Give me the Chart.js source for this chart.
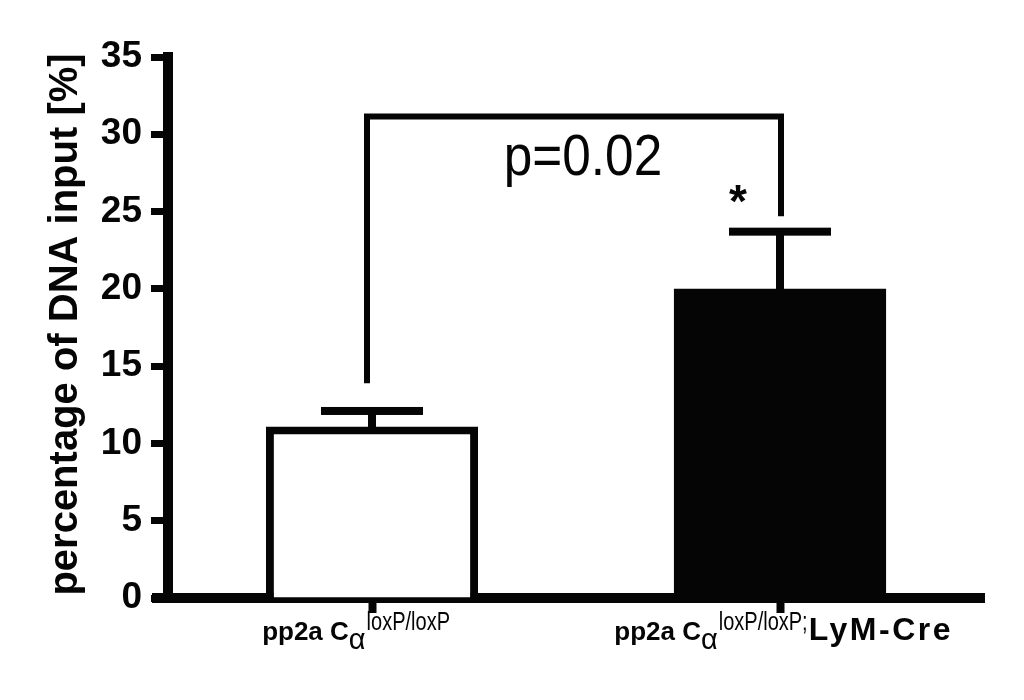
<!DOCTYPE html>
<html><head><meta charset="utf-8">
<script src="https://cdn.jsdelivr.net/npm/chart.js@4"></script>
<style>html,body{margin:0;padding:0;background:#fff;} #wrap{width:1024px;height:700px;}</style>
</head><body><div id="wrap"><canvas id="c" width="1024" height="700"></canvas></div>
<script>
const categories = ['pp2a Cα loxP/loxP', 'pp2a Cα loxP/loxP;LyM-Cre'];
const labelMain = ['pp2a C', 'pp2a C'];
const labelGreek = ['α', 'α'];
const labelSup = ['loxP/loxP', 'loxP/loxP;'];
const labelSuffix = ['', 'LyM-Cre'];
const values = [11.1, 20.0];
const errors = [1.0, 3.7];
const barColors = ['#ffffff', '#050505'];
const yTicks = [0, 5, 10, 15, 20, 25, 30, 35];
const yTitle = 'percentage of DNA input [%]';
const bracketLevel = 31.15;
const bracketEnds = [13.9, 24.7];
const pLabel = 'p=0.02';
const starLabel = '*';

const INK = '#050505';
const FONT = '"Liberation Sans", Arial, Helvetica, sans-serif';

const annot = {
  id: 'annot',
  afterDatasetsDraw(chart) {
    const ctx = chart.ctx, x = chart.scales.x, y = chart.scales.y;
    ctx.save();
    ctx.fillStyle = INK; ctx.strokeStyle = INK;
    values.forEach((v, i) => {
      const cx = x.getPixelForValue(i);
      const yTop = y.getPixelForValue(v);
      const yErr = y.getPixelForValue(v + errors[i]);
      ctx.fillRect(cx - 4, yErr, 8, yTop - yErr + 2);
      ctx.fillRect(cx - 51, yErr - 4, 102, 8);
    });
    const xl = x.getPixelForValue(0), xr = x.getPixelForValue(1);
    const yb = y.getPixelForValue(bracketLevel);
    ctx.lineWidth = 6; ctx.lineJoin = 'miter'; ctx.lineCap = 'butt';
    ctx.beginPath();
    ctx.moveTo(xl - 5, y.getPixelForValue(bracketEnds[0]));
    ctx.lineTo(xl - 5, yb);
    ctx.lineTo(xr + 1, yb);
    ctx.lineTo(xr + 1, y.getPixelForValue(bracketEnds[1]));
    ctx.stroke();
    ctx.save();
    ctx.font = '57px ' + FONT;
    ctx.textAlign = 'center'; ctx.textBaseline = 'alphabetic';
    ctx.translate((xl + xr) / 2 + 7, yb + 58);
    ctx.scale(0.9, 1);
    ctx.fillText(pLabel, 0, 0);
    ctx.restore();
    ctx.font = 'bold 46px ' + FONT;
    ctx.textAlign = 'center'; ctx.textBaseline = 'alphabetic';
    ctx.fillText(starLabel, xr - 42, yb + 100);
    ctx.restore();
  },
  afterDraw(chart) {
    const ctx = chart.ctx, x = chart.scales.x, ca = chart.chartArea;
    ctx.save();
    ctx.fillStyle = INK;
    ctx.fillRect(ca.left - 16, ca.bottom - 5, 16, 10);
    ctx.textBaseline = 'alphabetic';
    ctx.save();
    ctx.translate(77, (ca.top + ca.bottom) / 2 - 3);
    ctx.rotate(-Math.PI / 2);
    ctx.font = 'bold 40px ' + FONT;
    ctx.textAlign = 'center';
    ctx.fillText(yTitle, 0, 0);
    ctx.restore();
    const base = ca.bottom + 42;
    ctx.textAlign = 'left';
    categories.forEach((c, i) => {
      const cx = x.getPixelForValue(i);
      ctx.font = 'bold 26px ' + FONT;
      const nominal = ctx.measureText(labelMain[i] + labelGreek[i] + labelSup[i] + labelSuffix[i]).width;
      let px = cx - nominal / 2;
      ctx.fillText(labelMain[i], px, base);
      px += ctx.measureText(labelMain[i]).width;
      ctx.font = '29px ' + FONT;
      ctx.fillText(labelGreek[i], px, base + 9);
      px += ctx.measureText(labelGreek[i]).width + 1;
      ctx.font = '25px ' + FONT;
      const sw = ctx.measureText(labelSup[i]).width * 0.8;
      ctx.save();
      ctx.translate(px, base - 10);
      ctx.scale(0.8, 1);
      ctx.fillText(labelSup[i], 0, 0);
      ctx.restore();
      px += sw;
      if (labelSuffix[i]) {
        ctx.font = 'bold 32px ' + FONT;
        ctx.letterSpacing = '2.5px';
        ctx.fillText(labelSuffix[i], px + 1, base);
        ctx.letterSpacing = '0px';
      }
    });
    ctx.restore();
  }
};

new Chart(document.getElementById('c'), {
  type: 'bar',
  data: {
    labels: categories,
    datasets: [{
      data: values,
      backgroundColor: barColors,
      borderColor: INK,
      borderWidth: [8, 0],
      borderSkipped: 'bottom',
      barPercentage: 1,
      categoryPercentage: 0.52
    }]
  },
  options: {
    responsive: false, animation: false, devicePixelRatio: 1,
    layout: { padding: { top: 57, right: 40, left: 0, bottom: 0 } },
    plugins: { legend: { display: false }, tooltip: { enabled: false } },
    scales: {
      x: {
        z: 1,
        grid: { display: true, drawOnChartArea: false, drawTicks: true, offset: false, tickLength: 15, tickWidth: 8, tickColor: INK },
        border: { display: true, width: 10, color: INK },
        ticks: { display: false },
        afterFit(s) { s.height = 102; }
      },
      y: {
        min: 0, max: 35,
        afterBuildTicks(s) { s.ticks = yTicks.map(v => ({ value: v })); },
        ticks: { color: INK, font: { family: FONT, size: 37, weight: 'bold' }, padding: 9 },
        grid: { display: true, drawOnChartArea: false, drawTicks: true, tickLength: 17, tickWidth: 7, tickColor: INK },
        border: { display: true, width: 10, color: INK },
        afterFit(s) { s.width = 168; }
      }
    }
  },
  plugins: [annot]
});
</script>
</body></html>
